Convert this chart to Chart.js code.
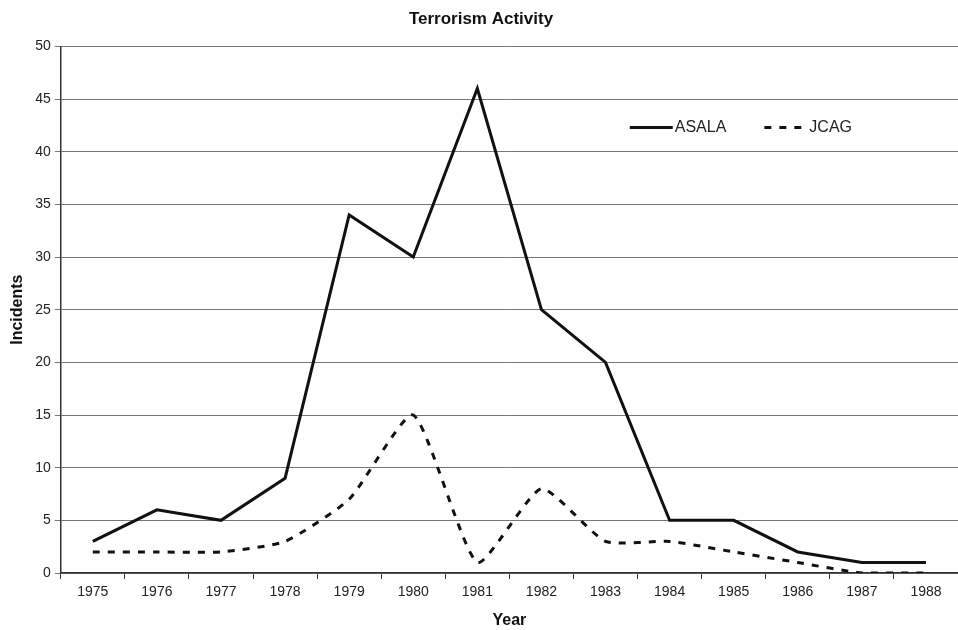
<!DOCTYPE html>
<html>
<head>
<meta charset="utf-8">
<script src="https://cdn.jsdelivr.net/npm/chart.js@4.4.0/dist/chart.umd.min.js"></script>
<style>
  html, body { margin: 0; padding: 0; background: #fff; }
  #wrap { width: 958px; height: 630px; }
</style>
</head>
<body>
<div id="wrap"><canvas id="chart"></canvas></div>
<script>
const years = ['1975', '1976', '1977', '1978', '1979', '1980', '1981', '1982', '1983', '1984', '1985', '1986', '1987', '1988'];
const asala = [3, 6, 5, 9, 34, 30, 46, 25, 20, 5, 5, 2, 1, 1];
const jcag = [2, 2, 2, 3, 7, 15, 1, 8, 3, 3, 2, 1, 0, 0];

const font = 'Liberation Sans, Arial, Helvetica, sans-serif';

// legend drawn inside the plot area, like the original
const innerLegend = {
  id: 'innerLegend',
  afterDatasetsDraw(chart) {
    const ctx = chart.ctx;
    const area = chart.chartArea;
    let x = area.left + 569;
    const y = area.top + 81;
    ctx.save();
    ctx.font = '16px ' + font;
    ctx.textBaseline = 'middle';
    chart.data.datasets.forEach(ds => {
      ctx.strokeStyle = ds.borderColor;
      ctx.lineWidth = ds.borderWidth;
      ctx.setLineDash(ds.borderDash || []);
      ctx.beginPath();
      ctx.moveTo(x, y);
      ctx.lineTo(x + 43, y);
      ctx.stroke();
      ctx.setLineDash([]);
      ctx.fillStyle = '#222';
      ctx.fillText(ds.label, x + 45, y);
      x += 45 + ctx.measureText(ds.label).width + 38;
    });
    ctx.restore();
  }
};

new Chart(document.getElementById('chart'), {
  type: 'line',
  data: {
    labels: years,
    datasets: [{
      label: 'ASALA',
      data: asala,
      borderColor: '#111',
      borderWidth: 3,
      pointRadius: 0,
      tension: 0
    }, {
      label: 'JCAG',
      data: jcag,
      borderColor: '#111',
      borderWidth: 3,
      borderDash: [7, 8],
      pointRadius: 0,
      tension: 0.18
    }]
  },
  options: {
    responsive: true,
    maintainAspectRatio: false,
    animation: false,
    layout: { padding: { left: 4, right: 0, top: 2, bottom: 0 } },
    plugins: {
      legend: { display: false },
      tooltip: { enabled: false },
      title: {
        display: true,
        text: 'Terrorism Activity',
        color: '#111',
        font: { family: font, size: 17, weight: 'bold' },
        padding: { top: 7, bottom: 17 }
      }
    },
    scales: {
      x: {
        offset: true,
        grid: {
          offset: true,
          drawOnChartArea: false,
          color: '#333',
          tickLength: 6
        },
        border: { color: '#333', width: 1.5 },
        ticks: { color: '#222', font: { family: font, size: 14 }, maxRotation: 0, padding: 5 },
        title: {
          display: true,
          text: 'Year',
          color: '#111',
          font: { family: font, size: 16, weight: 'bold' },
          padding: { top: 5, bottom: 0 }
        }
      },
      y: {
        min: 0,
        max: 50,
        ticks: { stepSize: 5, color: '#222', font: { family: font, size: 14 }, padding: 4 },
        grid: { color: '#777', lineWidth: 1, tickLength: 6 },
        border: { color: '#333', width: 1.5 },
        title: {
          display: true,
          text: 'Incidents',
          color: '#111',
          font: { family: font, size: 16, weight: 'bold' },
          padding: { bottom: 4 }
        }
      }
    }
  },
  plugins: [innerLegend]
});
</script>
</body>
</html>
